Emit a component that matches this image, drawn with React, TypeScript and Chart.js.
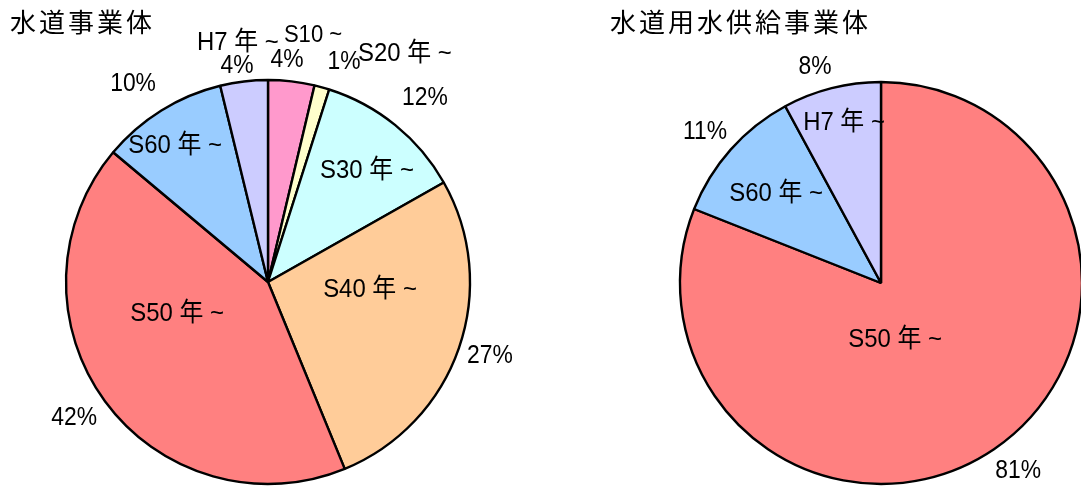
import React, { useEffect, useRef } from "react";
import { Chart, registerables } from "chart.js";

Chart.register(...registerables);

// ---- Data ----
const leftTitle = "水道事業体";
const leftCategories = ["S10 ~", "S20 年 ~", "S30 年 ~", "S40 年 ~", "S50 年 ~", "S60 年 ~", "H7 年 ~"];
const leftValues = [3.7, 1.2, 11.9, 27.0, 42.3, 10.1, 3.8];
const leftPercentLabels = ["4%", "1%", "12%", "27%", "42%", "10%", "4%"];
const leftColors = ["#FF99CC", "#FFFFCC", "#CCFFFF", "#FFCC99", "#FF8080", "#99CCFF", "#CCCCFF"];

const rightTitle = "水道用水供給事業体";
const rightCategories = ["S50 年 ~", "S60 年 ~", "H7 年 ~"];
const rightValues = [81.0, 11.1, 7.9];
const rightPercentLabels = ["81%", "11%", "8%"];
const rightColors = ["#FF8080", "#99CCFF", "#CCCCFF"];

// label placement: offsets from pie centre in units of radius
const leftNamePos = [[0.223, -1.223], [0.678, -1.129], [0.49, -0.55], [0.505, 0.04], [-0.45, 0.158], [-0.46, -0.673], [-0.149, -1.183]];
const leftPctPos = [[0.094, -1.099], [0.376, -1.089], [0.777, -0.911], [1.099, 0.366], [-0.96, 0.673], [-0.668, -0.98], [-0.153, -1.069]];
const leftNameSizes = [24, 26, 26, 26, 26, 26, 26];
const rightNamePos = [[0.07, 0.284], [-0.522, -0.443], [-0.184, -0.796]];
const rightPctPos = [[0.682, 0.935], [-0.876, -0.751], [-0.328, -1.075]];
const rightNameSizes = [26, 26, 26];

const FONT_FAMILY = '"Liberation Sans", Arial, "Noto Sans CJK JP", sans-serif';
const TITLE_FONT = '26px "Noto Sans CJK JP", sans-serif';
const NAME_SX = 0.92;
const PCT_SX = 0.88;

function drawText(ctx: CanvasRenderingContext2D, text: string, x: number, y: number, sx: number) {
  ctx.save();
  ctx.translate(x, y);
  ctx.scale(sx, 1);
  ctx.fillText(text, 0, 0);
  ctx.restore();
}

function makeLabelPlugin(title: string, titleX: number, names: string[], pcts: string[], namePos: number[][], pctPos: number[][], nameSizes: number[]) {
  return {
    id: "customLabels",
    afterDraw(chart: any) {
      const ctx: CanvasRenderingContext2D = chart.ctx;
      const meta = chart.getDatasetMeta(0);
      ctx.save();
      ctx.fillStyle = "#000";
      ctx.textAlign = "center";
      ctx.textBaseline = "middle";
      meta.data.forEach((arc: any, i: number) => {
        const r = arc.outerRadius;
        const cx = arc.x;
        const cy = arc.y;
        ctx.font = `${nameSizes[i]}px ${FONT_FAMILY}`;
        drawText(ctx, names[i], cx + namePos[i][0] * r, cy + namePos[i][1] * r, NAME_SX);
        ctx.font = `26px ${FONT_FAMILY}`;
        drawText(ctx, pcts[i], cx + pctPos[i][0] * r, cy + pctPos[i][1] * r, PCT_SX);
      });
      ctx.font = TITLE_FONT;
      ctx.textAlign = "left";
      (ctx as any).letterSpacing = "3px";
      ctx.fillText(title, titleX, 22);
      ctx.restore();
    },
  };
}

function PieCanvas(props: {
  width: number; height: number; left: number;
  values: number[]; colors: string[]; categories: string[]; pcts: string[];
  namePos: number[][]; pctPos: number[][]; nameSizes: number[]; radius: number;
  padding: { top: number; bottom: number; left: number; right: number };
  title: string; titleX: number;
}) {
  const ref = useRef<HTMLCanvasElement | null>(null);
  useEffect(() => {
    if (!ref.current) return;
    const chart = new Chart(ref.current, {
      type: "pie",
      data: {
        labels: props.categories,
        datasets: [
          {
            data: props.values,
            backgroundColor: props.colors,
            borderColor: "#000",
            borderWidth: 2.4,
            clip: false as any,
          } as any,
        ],
      },
      options: {
        responsive: false,
        animation: false,
        radius: props.radius,
        layout: { padding: props.padding },
        plugins: { legend: { display: false }, tooltip: { enabled: false }, title: { display: false } },
      } as any,
      plugins: [makeLabelPlugin(props.title, props.titleX, props.categories, props.pcts, props.namePos, props.pctPos, props.nameSizes)],
    });
    return () => chart.destroy();
  }, []);
  return (
    <canvas
      ref={ref}
      width={props.width}
      height={props.height}
      style={{ position: "absolute", left: props.left, top: 0, width: props.width, height: props.height }}
    />
  );
}

export default function App() {
  return (
    <div style={{ position: "fixed", left: 0, top: 0, width: 1081, height: 494, overflow: "hidden", background: "#fff" }}>
      <PieCanvas
        width={540} height={494} left={0}
        values={leftValues} colors={leftColors} categories={leftCategories} pcts={leftPercentLabels}
        namePos={leftNamePos} pctPos={leftPctPos} nameSizes={leftNameSizes} radius={202}
        padding={{ top: 80, bottom: 10, left: 0, right: 4 }}
        title={leftTitle} titleX={10}
      />
      <PieCanvas
        width={650} height={494} left={560}
        values={rightValues} colors={rightColors} categories={rightCategories} pcts={rightPercentLabels}
        namePos={rightNamePos} pctPos={rightPctPos} nameSizes={rightNameSizes} radius={201}
        padding={{ top: 80, bottom: 8, left: 0, right: 8 }}
        title={rightTitle} titleX={50}
      />
    </div>
  );
}
